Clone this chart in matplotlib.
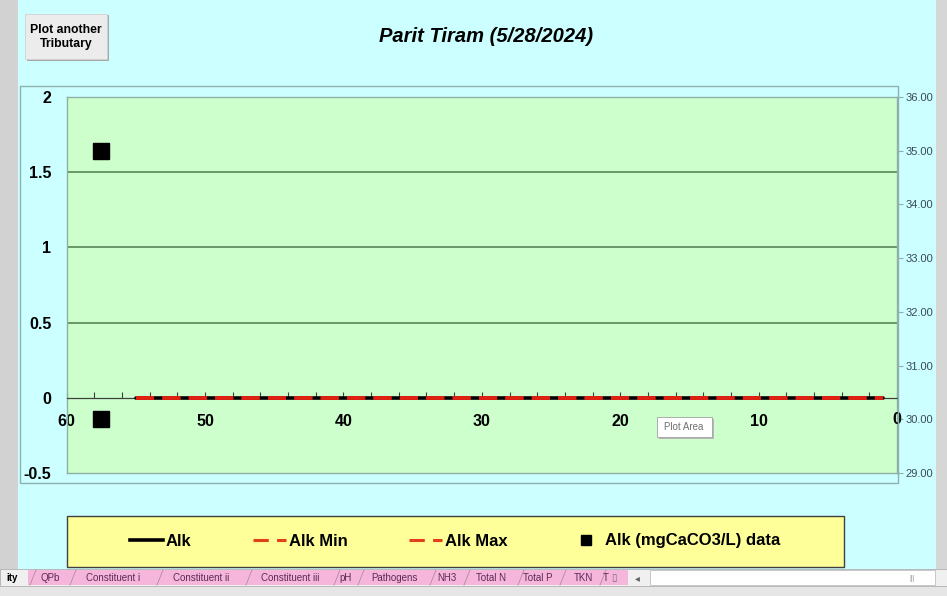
import matplotlib
matplotlib.use("Agg")
import matplotlib.pyplot as plt
from matplotlib.patches import Rectangle
from matplotlib.lines import Line2D
from matplotlib.ticker import MultipleLocator, FormatStrFormatter

plt.rcParams['font.family'] = ['Liberation Sans', 'DejaVu Sans']
plt.rcParams['lines.scale_dashes'] = False

# ---- data ----
title = "Parit Tiram (5/28/2024)"
alk_x = [55, 1]
alk = [0, 0]
alk_min = [0, 0]
alk_max = [0, 0]
data_x = [57.5, 57.5]
data_y = [35, 30]          # plotted on the secondary (right) axis
left_ticks = [-0.5, 0, 0.5, 1, 1.5, 2]
left_tick_labels = ["-0.5", "0", "0.5", "1", "1.5", "2"]
right_ticks = [29, 30, 31, 32, 33, 34, 35, 36]
x_ticks = [60, 50, 40, 30, 20, 10, 0]
legend_labels = ["Alk", "Alk Min", "Alk Max", "Alk (mgCaCO3/L) data"]
tab_names = ["ity", "QPb", "Constituent i", "Constituent ii", "Constituent iii",
             "pH", "Pathogens", "NH3", "Total N", "Total P", "TKN", "T"]

W, H = 947, 596
fig = plt.figure(figsize=(W / 100, H / 100), dpi=100)
fig.patch.set_facecolor('#ccffff')

def fx(px):
    return px / W

def fy(py):
    return 1 - py / H

# window chrome
fig.add_artist(Rectangle((0, 0), fx(18), 1, transform=fig.transFigure,
                         facecolor='#d2d2d2', edgecolor='none', zorder=0))
fig.add_artist(Rectangle((fx(936), 0), fx(11), 1, transform=fig.transFigure,
                         facecolor='#d6d6d6', edgecolor='none', zorder=0))
fig.add_artist(Rectangle((0, 0), 1, fy(586), transform=fig.transFigure,
                         facecolor='#e6e6e6', edgecolor='none', zorder=0))
# tab bar
fig.add_artist(Rectangle((0, fy(586)), 1, (586 - 569) / H, transform=fig.transFigure,
                         facecolor='#f0f0f0', edgecolor='#b0b0b0', lw=0.6, zorder=1))
fig.add_artist(Rectangle((fx(28), fy(585)), fx(600), (585 - 570) / H, transform=fig.transFigure,
                         facecolor='#f6b6dc', edgecolor='none', zorder=1))
fig.add_artist(Rectangle((fx(650), fy(585)), fx(285), (585 - 570) / H, transform=fig.transFigure,
                         facecolor='#ffffff', edgecolor='#c0c0c0', lw=0.6, zorder=1))
tab_x = [12, 50, 113, 201, 290, 346, 394, 447, 491, 538, 583, 606]
seps = [30, 70, 157, 246, 334, 358, 430, 464, 518, 560, 600]
for s in seps:
    fig.add_artist(Line2D([fx(s), fx(s + 6)], [fy(585), fy(570)], transform=fig.transFigure,
                          color='#b08aa0', lw=0.6, zorder=2))
for name, x in zip(tab_names, tab_x):
    fig.text(fx(x), fy(578), name, ha='center', va='center', fontsize=7,
             color='#000000' if name == 'ity' else '#5a2a55',
             fontweight='bold' if name == 'ity' else 'normal', zorder=3)
fig.text(fx(614), fy(578), "\u25AF", ha='center', va='center', fontsize=7, color='#707070', zorder=3)
fig.text(fx(637), fy(578), "\u25C2", ha='center', va='center', fontsize=7, color='#606060', zorder=3)
fig.text(fx(912), fy(578), "|||", ha='center', va='center', fontsize=5, color='#a0a0a0', zorder=3)

# plot-area selection frame
fig.add_artist(Rectangle((fx(20), fy(483)), fx(878), (483 - 86) / H, transform=fig.transFigure,
                         facecolor='none', edgecolor='#8fb0b0', lw=1.0, zorder=1))

# button
fig.add_artist(Rectangle((fx(27), fy(61)), fx(82), (61 - 15) / H, transform=fig.transFigure,
                         facecolor='#a8a8a8', edgecolor='none', zorder=2))
fig.add_artist(Rectangle((fx(25), fy(59)), fx(82), (59 - 14) / H, transform=fig.transFigure,
                         facecolor='#ececec', edgecolor='#d0d0d0', lw=0.6, zorder=3))
fig.text(fx(66), fy(37), "Plot another\nTributary", ha='center', va='center',
         fontsize=8.8, fontweight='bold', linespacing=1.3, zorder=4)

# title
fig.text(fx(486), fy(37), title, ha='center', va='center', fontsize=14.5,
         fontweight='bold', fontstyle='italic')

# main axes
ax = fig.add_axes([fx(66.7), fy(473), fx(897 - 66.7), (473 - 97) / H])
ax.set_facecolor('#ccffcc')
ax.set_xlim(60, 0)
ax.set_ylim(-0.5, 2)
for sp in ['top', 'left', 'right']:
    ax.spines[sp].set_color('#8fb0a8')
    ax.spines[sp].set_linewidth(1.0)
ax.spines['bottom'].set_position(('data', 0))
ax.spines['bottom'].set_color('#404040')
ax.spines['bottom'].set_linewidth(0.9)
ax.set_yticks(left_ticks)
ax.set_yticklabels(left_tick_labels)
ax.tick_params(axis='y', length=0, pad=11, labelsize=11.5)
for lab in ax.get_yticklabels():
    lab.set_fontweight('bold')
ax.set_xticks(x_ticks)
ax.xaxis.set_minor_locator(MultipleLocator(2))
ax.tick_params(axis='x', which='both', direction='in', length=4, color='#404040',
               width=0.8, pad=12, labelsize=11.5)
for lab in ax.get_xticklabels():
    lab.set_fontweight('bold')
for gy in [0.5, 1, 1.5]:
    ax.axhline(gy, color='#4f7a4f', lw=1.1, zorder=1)
ax.axhline(-0.5, color='#8fb0a8', lw=1.0, zorder=1, clip_on=False)

l_alk, = ax.plot(alk_x, alk, color='black', lw=2.6, solid_capstyle='round', zorder=3)
l_min, = ax.plot(alk_x, alk_min, color='#e02010', lw=2.6, zorder=4)
l_min.set_dashes((13, 6))
l_max, = ax.plot(alk_x, alk_max, color='#e02010', lw=2.6, zorder=4)
l_max.set_dashes((13, 6))

ax2 = ax.twinx()
ax2.set_ylim(29, 36)
ax2.set_yticks(right_ticks)
ax2.yaxis.set_major_formatter(FormatStrFormatter('%.2f'))
ax2.tick_params(axis='y', direction='out', length=4, color='#8fb0a8', pad=2,
                labelsize=8, labelcolor='#3a4a55')
for sp in ['top', 'left', 'bottom', 'right']:
    ax2.spines[sp].set_visible(False)
l_data, = ax2.plot(data_x, data_y, linestyle='none', marker='s', markersize=12,
                   color='black', zorder=5, clip_on=False)

# redraw the x tick label "0" on top so the right axis line does not cut it
fig.canvas.draw()
for lab in ax.get_xticklabels():
    if lab.get_text() == '0':
        lab.set_visible(False)
        ax2.annotate('0', xy=(1.0, 0), xycoords=('axes fraction', ax.get_yaxis_transform()),
                     xytext=(0, -26), textcoords='offset pixels', ha='center', va='baseline',
                     fontsize=11.5, fontweight='bold', annotation_clip=False, zorder=6)

# "Plot Area" tooltip
fig.add_artist(Rectangle((fx(659), fy(439)), fx(55), 20 / H, transform=fig.transFigure,
                         facecolor='#b8b8b8', edgecolor='none', zorder=6))
fig.add_artist(Rectangle((fx(657), fy(437)), fx(55), 20 / H, transform=fig.transFigure,
                         facecolor='#ffffff', edgecolor='#a0a0a0', lw=0.6, zorder=7))
fig.text(fx(684), fy(427), "Plot Area", ha='center', va='center', fontsize=7,
         color='#707070', zorder=8)

# legend box
fig.add_artist(Rectangle((fx(66.7), fy(567)), fx(844 - 66.7), (567 - 516) / H,
                         transform=fig.transFigure, facecolor='#ffff99',
                         edgecolor='#404040', lw=1.0, zorder=2))
h_min = Line2D([], [], color='#e0401a', lw=2.2)
h_min.set_dashes((11, 6))
h_max = Line2D([], [], color='#e0401a', lw=2.2)
h_max.set_dashes((11, 6))
h_alk = Line2D([], [], color='black', lw=2.6)
h_dat = Line2D([], [], linestyle='none', marker='s', markersize=7, color='black')
leg = fig.legend([h_alk, h_min, h_max, h_dat], legend_labels, ncol=4,
                 loc='center', bbox_to_anchor=(fx(455), fy(541)), frameon=False,
                 handlelength=2.0, handletextpad=0.15, columnspacing=3.7,
                 prop={'weight': 'bold', 'size': 12})
leg.set_zorder(5)

fig.savefig("out.png", dpi=100, facecolor=fig.get_facecolor())
